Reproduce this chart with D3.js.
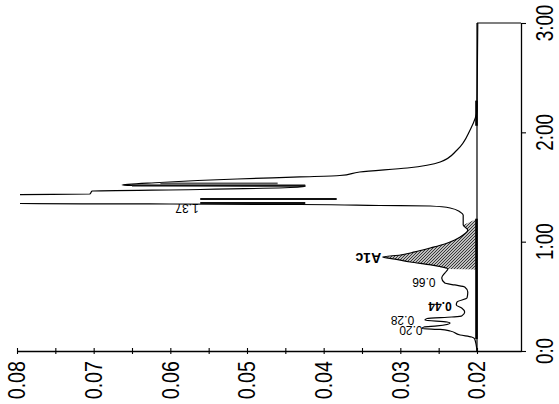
<!DOCTYPE html>
<html>
<head>
<meta charset="utf-8">
<script src="https://cdn.jsdelivr.net/npm/d3@7"></script>
<style>
  html, body { margin: 0; padding: 0; background: #fff; }
  svg { display: block; font-family: "Liberation Sans", Arial, sans-serif; }
</style>
</head>
<body>
<div id="chart"></div>
<script>
// chromatogram, printed rotated: time runs up the right side, absorbance grows to the left

// trace samples: retention time (min) and absorbance
const TIME = [
  0.000, 0.110, 0.128, 0.146, 0.183, 0.197, 0.206, 0.220, 0.229, 0.256,
  0.265, 0.284, 0.297, 0.311, 0.320, 0.357, 0.393, 0.421, 0.448, 0.485,
  0.540, 0.585, 0.604, 0.622, 0.668, 0.713, 0.750, 0.787, 0.814, 0.841,
  0.860, 0.878, 0.906, 0.942, 0.979, 1.015, 1.061, 1.107, 1.152, 1.244,
  1.271, 1.308, 1.326, 1.331, 1.340, 1.345, 1.349, 1.427, 1.431, 1.436,
  1.463, 1.477, 1.500, 1.509, 1.514, 1.518, 1.541, 1.573, 1.592, 1.605,
  1.637, 1.674, 1.729, 1.838, 2.021, 2.204, 3.000
];
const ABS = [
  0.0200, 0.0203, 0.0207, 0.0222, 0.0235, 0.0248, 0.0272, 0.0269, 0.0252, 0.0235,
  0.0239, 0.0268, 0.0265, 0.0233, 0.0220, 0.0216, 0.0220, 0.0227, 0.0226, 0.0213,
  0.0212, 0.0216, 0.0229, 0.0242, 0.0246, 0.0242, 0.0238, 0.0260, 0.0287, 0.0307,
  0.0323, 0.0300, 0.0281, 0.0261, 0.0242, 0.0229, 0.0218, 0.0212, 0.0218, 0.0218,
  0.0222, 0.0235, 0.0261, 0.0327, 0.0431, 0.0627, 0.0830, 0.0830, 0.0796, 0.0705,
  0.0702, 0.0561, 0.0431, 0.0424, 0.0650, 0.0663, 0.0613, 0.0513, 0.0431, 0.0379,
  0.0353, 0.0291, 0.0248, 0.0226, 0.0209, 0.0200, 0.0199
];

// axis ticks
const ABS_TICKS = [0.08, 0.075, 0.07, 0.065, 0.06, 0.055, 0.05, 0.045, 0.04, 0.035, 0.03, 0.025, 0.02];
const ABS_LABELS = [0.08, 0.07, 0.06, 0.05, 0.04, 0.03, 0.02];
const TIME_TICKS = [0, 1, 2, 3];
const TIME_LABELS = ['0:0', '1:00', '2:00', '3:00'];

// peak labels (printed upside down), anchored at their top right corner
const PEAK_TEXT = ['0.20', '0.28', '0.44', '0.66', '1.37', 'A1c'];
const PEAK_T    = [0.229, 0.320, 0.448, 0.668, 1.345, 0.896];
const PEAK_V    = [0.0271, 0.0282, 0.0233, 0.0254, 0.0563, 0.0325];
const PEAK_BOLD = [false, false, true, false, false, true];

// A1c integration window
const A1C_START = 0.745;
const A1C_END   = 1.21;

// heavy printer strokes inside the main peak: time, from, to
const MARK_T  = [1.513, 1.532, 1.390, 1.354];
const MARK_V0 = [0.0650, 0.0613, 0.0561, 0.0561];
const MARK_V1 = [0.0424, 0.0460, 0.0383, 0.0424];

// thicker stretches of the 0.02 baseline
const BASE_THICK = [[0.11, 1.21], [2.06, 2.29]];
const BASE_V = 0.02;

const width = 559, height = 404;

const x = d3.scaleLinear().domain([0.08, 0.01426]).range([17, 521]);
const y = d3.scaleLinear().domain([0, 3]).range([351, 23]);

const svg = d3.select('#chart').append('svg')
  .attr('width', width)
  .attr('height', height)
  .attr('viewBox', `0 0 ${width} ${height}`);

const defs = svg.append('defs');
const pat = defs.append('pattern')
  .attr('id', 'hatch')
  .attr('patternUnits', 'userSpaceOnUse')
  .attr('width', 3).attr('height', 3);
pat.append('rect').attr('width', 3).attr('height', 3).attr('fill', '#bdbdbd');
pat.append('path')
  .attr('d', 'M-1,1 L1,-1 M0,3 L3,0 M2,4 L4,2')
  .attr('stroke', '#2a2a2a')
  .attr('stroke-width', 0.9);

defs.append('clipPath').attr('id', 'plotClip')
  .append('rect')
  .attr('x', 20).attr('y', 0)
  .attr('width', width - 20).attr('height', height);

const trace = TIME.map((t, i) => ({ t, v: ABS[i] }));

const line = d3.line()
  .x(d => x(d.v))
  .y(d => y(d.t))
  .curve(d3.curveMonotoneY);

// shaded A1c area
const a1c = [{ t: A1C_START, v: BASE_V }]
  .concat(trace.filter(d => d.t > A1C_START && d.t < A1C_END - 0.05))
  .concat([{ t: A1C_END, v: BASE_V }]);

svg.append('path')
  .datum(a1c)
  .attr('d', d3.line().x(d => x(d.v)).y(d => y(d.t)))
  .attr('fill', 'url(#hatch)')
  .attr('stroke', 'none');

// baseline at 0.02 and top closing line
svg.append('line')
  .attr('x1', x(BASE_V)).attr('x2', x(BASE_V))
  .attr('y1', y(0)).attr('y2', y(3))
  .attr('stroke', '#000').attr('stroke-width', 1.2);

svg.append('line')
  .attr('x1', x(BASE_V)).attr('x2', x(x.domain()[1]))
  .attr('y1', y(3)).attr('y2', y(3))
  .attr('stroke', '#000').attr('stroke-width', 1.2);

BASE_THICK.forEach(r => {
  svg.append('line')
    .attr('x1', x(BASE_V) - 0.5).attr('x2', x(BASE_V) - 0.5)
    .attr('y1', y(r[0])).attr('y2', y(r[1]))
    .attr('stroke', '#000').attr('stroke-width', 2.6);
});

// the trace
svg.append('path')
  .datum(trace)
  .attr('clip-path', 'url(#plotClip)')
  .attr('d', line)
  .attr('fill', 'none')
  .attr('stroke', '#000')
  .attr('stroke-width', 1.2)
  .attr('stroke-linejoin', 'round');

MARK_T.forEach((t, i) => {
  svg.append('line')
    .attr('x1', x(MARK_V0[i])).attr('x2', x(MARK_V1[i]))
    .attr('y1', y(t)).attr('y2', y(t))
    .attr('stroke', i === 1 ? '#555' : '#111')
    .attr('stroke-width', 2);
});

// peak labels
PEAK_TEXT.forEach((txt, i) => {
  svg.append('text')
    .attr('transform', `translate(${x(PEAK_V[i])},${y(PEAK_T[i])}) rotate(180)`)
    .attr('text-anchor', 'start')
    .attr('font-size', txt === 'A1c' ? 14 : 12)
    .attr('font-weight', PEAK_BOLD[i] ? 'bold' : 'normal')
    .attr('fill', '#000')
    .text(txt);
});

// absorbance axis (bottom)
const xAxis = svg.append('g')
  .attr('transform', `translate(0,${y(0)})`)
  .call(d3.axisBottom(x).tickValues(ABS_TICKS).tickSize(3).tickSizeOuter(0).tickFormat(''));
xAxis.select('.domain').attr('stroke', '#000').attr('stroke-width', 1.3);
xAxis.selectAll('.tick line').attr('y1', -3).attr('stroke', '#000').attr('stroke-width', 1.1);

ABS_LABELS.forEach(v => {
  svg.append('text')
    .attr('transform', `translate(${x(v)},${y(0) + 10}) rotate(-90) scale(0.82,1)`)
    .attr('text-anchor', 'end')
    .attr('dy', '0.35em')
    .attr('font-size', 24)
    .attr('fill', '#000')
    .text(v.toFixed(2));
});

// time axis (right)
const yAxis = svg.append('g')
  .attr('transform', `translate(${x(x.domain()[1])},0)`)
  .call(d3.axisRight(y).tickValues(TIME_TICKS).tickSize(5).tickSizeOuter(0).tickFormat(''));
yAxis.select('.domain').attr('stroke', '#000').attr('stroke-width', 1.3);
yAxis.selectAll('.tick line').attr('stroke', '#000').attr('stroke-width', 1.1);

TIME_TICKS.forEach((t, i) => {
  svg.append('text')
    .attr('transform', `translate(553,${y(t)}) rotate(-90) scale(0.82,1)`)
    .attr('text-anchor', 'middle')
    .attr('font-size', 23)
    .attr('fill', '#000')
    .text(TIME_LABELS[i]);
});
</script>
</body>
</html>
